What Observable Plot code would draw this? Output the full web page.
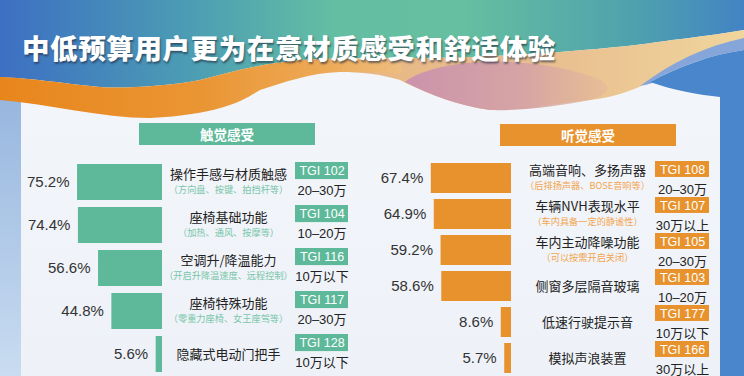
<!DOCTYPE html>
<html>
<head>
<meta charset="utf-8">
<script src="https://cdn.jsdelivr.net/npm/d3@7"></script>
<script src="https://cdn.jsdelivr.net/npm/@observablehq/plot@0.6"></script>
<style>
  html, body { margin: 0; padding: 0; background: #f1f4f9; }
  #wrap { position: relative; width: 744px; height: 376px; overflow: hidden; font-family: "Noto Sans CJK SC", sans-serif; }
  #bg { position: absolute; left: 0; top: 0; }
  #title { position: absolute; left: 22px; top: 29px; font-size: 27.5px; font-weight: 900; color: #fff; letter-spacing: 0.6px;
           text-shadow: 1px 2px 2px rgba(30,40,60,0.6); white-space: nowrap; line-height: 36px; }
  .hdr { position: absolute; height: 22px; line-height: 22px; text-align: center; color: #fff; font-weight: 700; font-size: 13.5px; }
  .layer { position: absolute; left: 0; top: 0; }
</style>
</head>
<body>
<div id="wrap">
  <svg id="bg" width="744" height="376" viewBox="0 0 744 376">
    <defs>
      <linearGradient id="hg" x1="0" y1="0" x2="1" y2="0">
        <stop offset="0" stop-color="#3d6fc3"/>
        <stop offset="0.25" stop-color="#4b9cb4"/>
        <stop offset="0.45" stop-color="#64bea2"/>
        <stop offset="0.62" stop-color="#66bfa0"/>
        <stop offset="0.85" stop-color="#4fa2ad"/>
        <stop offset="1" stop-color="#4284c4"/>
      </linearGradient>
      <linearGradient id="og" x1="0" y1="0" x2="1" y2="0">
        <stop offset="0" stop-color="#e8861c"/>
        <stop offset="0.5" stop-color="#ea9534"/>
        <stop offset="0.8" stop-color="#eda955"/>
        <stop offset="1" stop-color="#eebd80"/>
      </linearGradient>
      <linearGradient id="beg" x1="0" y1="0" x2="1" y2="0">
        <stop offset="0" stop-color="#e8b482"/>
        <stop offset="0.6" stop-color="#e9c090"/>
        <stop offset="1" stop-color="#f0d59c"/>
      </linearGradient>
      <linearGradient id="pg" x1="0" y1="0" x2="1" y2="0">
        <stop offset="0" stop-color="#cc93ac"/>
        <stop offset="0.6" stop-color="#d6a5a4"/>
        <stop offset="1" stop-color="#e3b998" stop-opacity="0.6"/>
      </linearGradient>
      <linearGradient id="lg" x1="0" y1="0" x2="0" y2="1">
        <stop offset="0" stop-color="#86a9d8"/>
        <stop offset="1" stop-color="#c9dcf1"/>
      </linearGradient>
      <linearGradient id="pan" x1="0" y1="0" x2="0" y2="1">
        <stop offset="0" stop-color="#f4f6fa"/>
        <stop offset="1" stop-color="#eef2f8"/>
      </linearGradient>
    </defs>
    <rect x="0" y="0" width="744" height="376" fill="url(#pan)"/>
    <rect x="0" y="0" width="21" height="376" fill="url(#lg)"/>
    <path d="M0,0 H744 V30 C720,34 690,38 672,40 C640,45 610,48 560,52 C520,55 470,58 420,58 C390,58 340,58 300,60 C260,64 230,72 200,80 C170,86 120,89 100,87 C60,83 30,78 0,77 Z" fill="url(#hg)"/>
    <path d="M290,62 C340,58 390,58 420,58 C470,58 520,55 560,52 C610,48 640,45 672,40 C690,38 720,34 744,30 V40 C705,48 675,64 650,82 C630,92 610,98 590,100 C560,104 520,108 490,110 C450,104 420,90 400,80 C380,74 360,72 340,72 Z" fill="url(#beg)"/>
    <path d="M405,82 C420,70 450,64 480,62 C520,60 560,66 590,76 C615,84 612,94 590,100 C560,106 520,111 490,110 C460,106 430,95 405,82 Z" fill="url(#pg)"/>
    <path d="M0,77 C30,78 60,83 100,87 C120,89 170,86 200,80 C230,72 260,64 300,60 C330,58 360,58 390,60 C400,62 405,66 400,74 C385,73 370,72 340,72 C310,73 285,82 260,90 C240,102 220,114 150,118 C100,118 50,104 0,100 Z" fill="url(#og)"/>
    <path d="M744,38 C705,46 672,62 640,86 C650,84 655,83 652,81 C680,66 710,55 744,50 Z" fill="#86a6d9"/>
    <path d="M650,82 C680,66 710,55 744,50 V376 H720 V97 C700,95 672,90 650,82 Z" fill="#4a86cb"/>
  </svg>
  <div id="title">中低预算用户更为在意材质感受和舒适体验</div>
  <div class="hdr" style="left:139px; top:123px; width:176px; background:#5db99a;">触觉感受</div>
  <div class="hdr" style="left:500px; top:124px; width:176px; background:#e8922e;">听觉感受</div>
  <div id="plots"></div>
</div>
<script>
// ---- data ----
const touchCats = ["操作手感与材质触感", "座椅基础功能", "空调升/降温能力", "座椅特殊功能", "隐藏式电动门把手"];
const touchSubs = ["（方向盘、按键、拍挡杆等）", "（加热、通风、按摩等）", "（开启升降温速度、远程控制）", "（零重力座椅、女王座驾等）", ""];
const touchPct = [75.2, 74.4, 56.6, 44.8, 5.6];
const touchTGI = [102, 104, 116, 117, 128];
const touchTier = ["20–30万", "10–20万", "10万以下", "20–30万", "10万以下"];

const hearCats = ["高端音响、多扬声器", "车辆NVH表现水平", "车内主动降噪功能", "侧窗多层隔音玻璃", "低速行驶提示音", "模拟声浪装置"];
const hearSubs = ["（后排扬声器、BOSE音响等）", "（车内具备一定的静谧性）", "（可以按需开启关闭）", "", "", ""];
const hearPct = [67.4, 64.9, 59.2, 58.6, 8.6, 5.7];
const hearTGI = [108, 107, 105, 103, 177, 166];
const hearTier = ["20–30万", "30万以上", "20–30万", "10–20万", "10万以下", "30万以上"];

const touch = touchCats.map((c, i) => ({cat: c, sub: touchSubs[i], pct: touchPct[i], tgi: "TGI " + touchTGI[i], tier: touchTier[i]}));
const hear = hearCats.map((c, i) => ({cat: c, sub: hearSubs[i], pct: hearPct[i], tgi: "TGI " + hearTGI[i], tier: hearTier[i]}));

const GREEN = "#5db99a", GREEN_SUB = "#79c6aa", ORANGE = "#e8922e", ORANGE_SUB = "#f2a650";
const NUMFONT = "'Liberation Sans', 'Noto Sans CJK SC', sans-serif";
const CJK = "'Noto Sans CJK SC', sans-serif";
const base = {width: 744, height: 376, margin: 0, style: {background: "transparent", overflow: "visible"}};

function barPlot(data, color, subColor, xRange, yRange, labelX) {
  return Plot.plot({
    ...base,
    x: {domain: [0, 100], range: xRange, axis: null},
    y: {type: "band", domain: data.map(d => d.cat), range: yRange, paddingInner: 0.17, paddingOuter: 0, axis: null},
    marks: [
      Plot.barX(data, {x: "pct", y: "cat", fill: color}),
      Plot.text(data, {x: "pct", y: "cat", text: d => d.pct.toFixed(1) + "%", textAnchor: "end", dx: -8, fontSize: 15, fill: "#333", fontFamily: NUMFONT}),
      Plot.text(data, {filter: d => d.sub, y: "cat", frameAnchor: "left", dx: labelX, dy: -8, text: "cat", textAnchor: "middle", fontSize: 13, fill: "#222", fontFamily: CJK}),
      Plot.text(data, {filter: d => !d.sub, y: "cat", frameAnchor: "left", dx: labelX, text: "cat", textAnchor: "middle", fontSize: 13, fill: "#222", fontFamily: CJK}),
      Plot.text(data, {filter: d => d.sub, y: "cat", frameAnchor: "left", dx: labelX, dy: 7.5, text: "sub", textAnchor: "middle", fontSize: 9.2, fill: subColor, fontFamily: CJK})
    ]
  });
}

function tgiPlot(data, color, xRange, yRange, boxH, tgiDy, tierDy) {
  const bw = (yRange[1] - yRange[0]) / (data.length - 0.17) * 0.83;
  return Plot.plot({
    ...base,
    x: {type: "band", domain: ["TGI"], range: xRange, padding: 0, axis: null},
    y: {type: "band", domain: data.map(d => d.cat), range: yRange, paddingInner: 0.17, paddingOuter: 0, axis: null},
    marks: [
      Plot.cell(data, {x: () => "TGI", y: "cat", fill: color, insetBottom: bw - boxH}),
      Plot.text(data, {x: () => "TGI", y: "cat", text: "tgi", dy: tgiDy, fill: "#fff", fontSize: 12.5, fontFamily: NUMFONT}),
      Plot.text(data, {x: () => "TGI", y: "cat", text: "tier", dy: tierDy, fill: "#222", fontSize: 13, fontFamily: NUMFONT})
    ]
  });
}

const host = document.getElementById("plots");
const layers = [
  barPlot(touch, GREEN, GREEN_SUB, [162, 49], [163, 372], 228),
  barPlot(hear, ORANGE, ORANGE_SUB, [511, 392], [162, 373], 587),
  tgiPlot(touch, GREEN, [295, 348], [161, 370], 17, -9.5, 10),
  tgiPlot(hear, ORANGE, [655, 709], [160, 371], 16, -7, 13)
];
for (const p of layers) { p.classList.add("layer"); host.appendChild(p); }
</script>
</body>
</html>
